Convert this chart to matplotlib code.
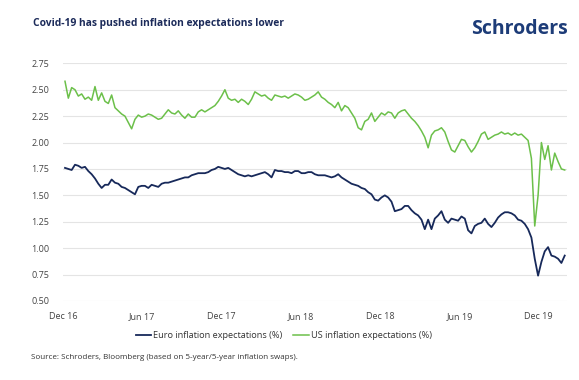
import numpy as np
import matplotlib
matplotlib.use("Agg")
import matplotlib.pyplot as plt
from matplotlib.lines import Line2D

plt.rcParams['font.family'] = ['Open Sans', 'DejaVu Sans']

# 5y/5y inflation swap readings, evenly spaced from Dec 2016 to mid 2020
us_vals = [
    2.58, 2.42, 2.52, 2.50, 2.44, 2.46, 2.41, 2.43, 2.40, 2.53,
    2.40, 2.47, 2.39, 2.37, 2.45, 2.33, 2.30, 2.27, 2.25, 2.19,
    2.13, 2.22, 2.26, 2.24, 2.25, 2.27, 2.26, 2.24, 2.22, 2.23,
    2.27, 2.31, 2.28, 2.27, 2.30, 2.26, 2.23, 2.27, 2.24, 2.24,
    2.29, 2.31, 2.29, 2.31, 2.33, 2.35, 2.39, 2.44, 2.50, 2.42,
    2.40, 2.41, 2.38, 2.41, 2.39, 2.36, 2.41, 2.48, 2.46, 2.44,
    2.45, 2.42, 2.40, 2.45, 2.44, 2.43, 2.44, 2.42, 2.44, 2.46,
    2.45, 2.43, 2.40, 2.41, 2.43,
    2.45, 2.48, 2.43, 2.41, 2.38, 2.36, 2.33, 2.38, 2.30, 2.35,
    2.33, 2.28, 2.23, 2.14, 2.12, 2.20, 2.22, 2.28, 2.20, 2.24,
    2.28, 2.26, 2.29, 2.28, 2.23, 2.28, 2.30, 2.31, 2.27, 2.23,
    2.20, 2.16, 2.11, 2.05, 1.95, 2.07, 2.11, 2.12, 2.14, 2.10,
    2.01, 1.93, 1.91, 1.97, 2.03, 2.02, 1.96, 1.91, 1.95, 2.01,
    2.08, 2.10, 2.03, 2.05, 2.07, 2.08, 2.10, 2.08, 2.09, 2.07,
    2.09, 2.07, 2.08, 2.05, 2.02, 1.85, 1.21, 1.50, 2.00, 1.84,
    1.97, 1.74, 1.90, 1.82, 1.75, 1.74,
]

euro_vals = [
    1.76, 1.75, 1.74, 1.79, 1.78, 1.76, 1.77, 1.73, 1.70, 1.66,
    1.61, 1.57, 1.60, 1.60, 1.65, 1.62, 1.61, 1.58, 1.57, 1.55,
    1.53, 1.51, 1.58, 1.59, 1.59, 1.57, 1.60, 1.59, 1.58, 1.61,
    1.62, 1.62, 1.63, 1.64, 1.65, 1.66, 1.67, 1.67, 1.69, 1.70,
    1.71, 1.71, 1.71, 1.72, 1.74, 1.75, 1.77, 1.76, 1.75, 1.76,
    1.74, 1.72, 1.70, 1.69, 1.68, 1.69, 1.68, 1.69, 1.70, 1.71,
    1.72, 1.70, 1.67, 1.74, 1.73, 1.73, 1.72, 1.72, 1.71, 1.73,
    1.73, 1.71, 1.71, 1.72, 1.72,
    1.70, 1.69, 1.69, 1.69, 1.68, 1.67, 1.68, 1.70, 1.67, 1.65,
    1.63, 1.61, 1.60, 1.59, 1.57, 1.56, 1.53, 1.51, 1.46, 1.45,
    1.48, 1.50, 1.48, 1.44, 1.35, 1.36, 1.37, 1.40, 1.40, 1.36,
    1.33, 1.31, 1.27, 1.18, 1.27, 1.18, 1.28, 1.31, 1.35, 1.27,
    1.24, 1.28, 1.27, 1.26, 1.30, 1.28, 1.17, 1.14, 1.21, 1.23,
    1.24, 1.28, 1.23, 1.20, 1.24, 1.29, 1.32, 1.34, 1.34, 1.33,
    1.31, 1.27, 1.26, 1.23, 1.18, 1.10, 0.90, 0.74, 0.87, 0.97,
    1.01, 0.93, 0.92, 0.90, 0.86, 0.93,
]

tick_labels = ['Dec 16', 'Jun 17', 'Dec 17', 'Jun 18', 'Dec 18', 'Jun 19', 'Dec 19']
y_ticks = [0.50, 0.75, 1.00, 1.25, 1.50, 1.75, 2.00, 2.25, 2.50, 2.75]

navy = '#17295a'
green = '#6cc04a'

fig = plt.figure(figsize=(5.79, 3.80), dpi=100)
ax = fig.add_axes([0.1088, 0.2079, 0.870, 0.6255])

x = np.arange(len(euro_vals))
ax.plot(x, us_vals, color=green, lw=1.1)
ax.plot(x, euro_vals, color=navy, lw=1.3)

ax.set_ylim(0.5, 2.75)
ax.set_xlim(-0.6, len(euro_vals) - 0.4)
ax.set_yticks(y_ticks)
ax.set_yticklabels([f'{v:.2f}' for v in y_ticks])
ax.set_xticks(np.arange(len(tick_labels)) * 23.8 - 0.6)
ax.set_xticklabels(tick_labels)
ax.tick_params(axis='both', length=0, labelsize=6.5, colors='#444444')
ax.tick_params(axis='y', pad=10)
ax.tick_params(axis='x', pad=8)
ax.grid(axis='y', color='#e4e4e4', lw=0.8)
ax.set_axisbelow(True)
for s in ax.spines.values():
    s.set_visible(False)

fig.text(0.057, 0.937, 'Covid-19 has pushed inflation expectations lower',
         fontsize=7.4, fontweight='bold', color='#1c2b5a', va='center')
fig.text(0.98, 0.925, 'Schroders', fontsize=14, fontweight='bold',
         color='#1d3c78', ha='right', va='center')

handles = [Line2D([], [], color=navy, lw=1.3), Line2D([], [], color=green, lw=1.1)]
fig.legend(handles, ['Euro inflation expectations (%)', 'US inflation expectations (%)'],
           loc='center', bbox_to_anchor=(0.49, 0.116), ncol=2, frameon=False,
           fontsize=6.6, handlelength=1.7, handletextpad=0.2, columnspacing=1.2,
           labelcolor='#333333')

fig.text(0.053, 0.058, 'Source: Schroders, Bloomberg (based on 5-year/5-year inflation swaps).',
         fontsize=5.8, color='#333333', va='center')

fig.savefig('out.png', dpi=100, facecolor='white')
